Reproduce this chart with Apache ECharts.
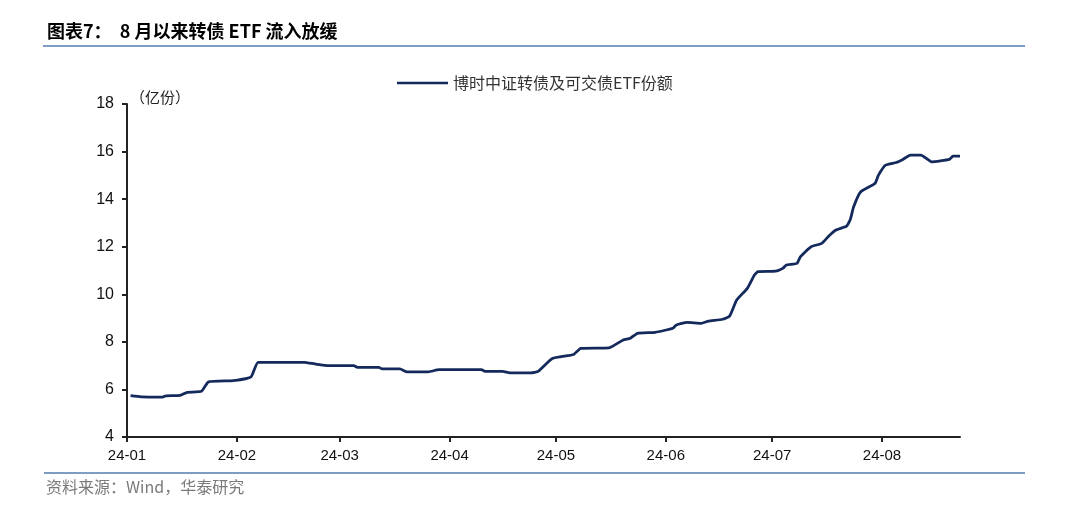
<!DOCTYPE html>
<html>
<head>
<meta charset="utf-8">
<script src="https://cdn.jsdelivr.net/npm/echarts@6/dist/echarts.min.js"></script>
<style>
html,body{margin:0;padding:0;background:#fff;}
#chart{width:1080px;height:506px;}
</style>
</head>
<body>
<div id="chart"></div>
<script>
const seriesName = '博时中证转债及可交债ETF份额';
const dates = ['2024-01-02','2024-01-05','2024-01-11','2024-01-12','2024-01-16','2024-01-18','2024-01-22','2024-01-24','2024-01-31',
'2024-02-05','2024-02-07','2024-02-20','2024-02-23','2024-02-27','2024-03-05','2024-03-06','2024-03-12','2024-03-13','2024-03-18',
'2024-03-20','2024-03-26','2024-03-29','2024-04-10','2024-04-11','2024-04-16','2024-04-18','2024-04-24','2024-04-26','2024-04-30',
'2024-05-06','2024-05-08','2024-05-16','2024-05-20','2024-05-22','2024-05-24','2024-05-29','2024-06-03','2024-06-04','2024-06-07',
'2024-06-11','2024-06-13','2024-06-17','2024-06-19','2024-06-21','2024-06-24','2024-06-26','2024-06-27','2024-07-02','2024-07-04',
'2024-07-05','2024-07-08','2024-07-09','2024-07-12','2024-07-15','2024-07-17','2024-07-19','2024-07-22','2024-07-23','2024-07-24',
'2024-07-26','2024-07-30','2024-07-31','2024-08-02','2024-08-05','2024-08-07','2024-08-09','2024-08-12','2024-08-15','2024-08-20',
'2024-08-21','2024-08-23'];
const values = [5.74,5.69,5.68,5.73,5.75,5.88,5.92,6.32,6.37,
6.53,7.14,7.14,7.07,7.00,7.00,6.93,6.93,6.86,6.86,
6.74,6.74,6.83,6.83,6.76,6.76,6.70,6.70,6.76,7.30,
7.47,7.73,7.75,8.08,8.15,8.36,8.40,8.57,8.71,8.82,
8.78,8.87,8.95,9.08,9.76,10.25,10.81,10.95,10.97,11.09,
11.23,11.30,11.58,12.00,12.14,12.45,12.70,12.87,13.12,13.68,
14.31,14.66,15.01,15.43,15.54,15.68,15.85,15.85,15.57,15.67,
15.81,15.81];
const yTicks = [4,6,8,10,12,14,16,18];
const titleText = '图表7：  8 月以来转债 ETF 流入放缓';
const sourceText = '资料来源：Wind，华泰研究';
const unitText = '（亿份）';

const chart = echarts.init(document.getElementById('chart'), null, {renderer:'canvas'});
const numFont = '"Liberation Sans", Arial, sans-serif';
const cjkFont = '"Noto Sans CJK SC", "Noto Sans", sans-serif';
chart.setOption({
  animation: false,
  backgroundColor: '#fff',
  grid: {left: 127, right: 120, top: 104, bottom: 69, containLabel: false},
  legend: {
    data: [seriesName], top: 70, left: 392, itemWidth: 51, itemHeight: 10, itemGap: 4,
    icon: 'path://M0,4 L52,4 L52,6.6 L0,6.6 Z',
    textStyle: {fontFamily: cjkFont, fontSize: 16, color: '#333'}
  },
  xAxis: {
    type: 'time',
    min: '2024-01-01', max: '2024-08-23',
    minInterval: 28*86400000,
    splitNumber: 8,
    axisLine: {lineStyle: {color: '#222', width: 2}},
    axisTick: {show: true, length: 5, lineStyle: {color: '#222', width: 2}},
    splitLine: {show: false},
    axisLabel: {formatter: '{yy}-{MM}', fontFamily: numFont, fontSize: 15, color: '#111', margin: 11, showMinLabel: true, showMaxLabel: false, hideOverlap: false}
  },
  yAxis: {
    type: 'value', min: yTicks[0], max: yTicks[yTicks.length-1], interval: 2,
    axisLine: {show: true, lineStyle: {color: '#222', width: 2}},
    axisTick: {show: true, length: 5, lineStyle: {color: '#222', width: 2}},
    splitLine: {show: false},
    axisLabel: {fontFamily: numFont, fontSize: 16, color: '#111', margin: 13}
  },
  series: [{
    name: seriesName, type: 'line', showSymbol: false, smooth: 0.15,
    data: dates.map((d,i)=>[d, values[i]]),
    lineStyle: {color: '#14295c', width: 2.8},
    itemStyle: {color: '#14295c'}
  }],
  graphic: [
    {type: 'text', left: 47, top: 22, style: {text: titleText, font: 'bold 18px ' + cjkFont, fill: '#000'}},
    {type: 'rect', shape: {x: 43, y: 45, width: 982, height: 2}, style: {fill: '#7f9cc4'}},
    {type: 'rect', shape: {x: 44, y: 472, width: 981, height: 2}, style: {fill: '#7f9cc4'}},
    {type: 'text', left: 46, top: 479, style: {text: sourceText, font: '16px ' + cjkFont, fill: '#7a7a7a'}},
    {type: 'text', left: 130, top: 90, style: {text: unitText, font: '15px ' + cjkFont, fill: '#222'}}
  ]
});
</script>
</body>
</html>
